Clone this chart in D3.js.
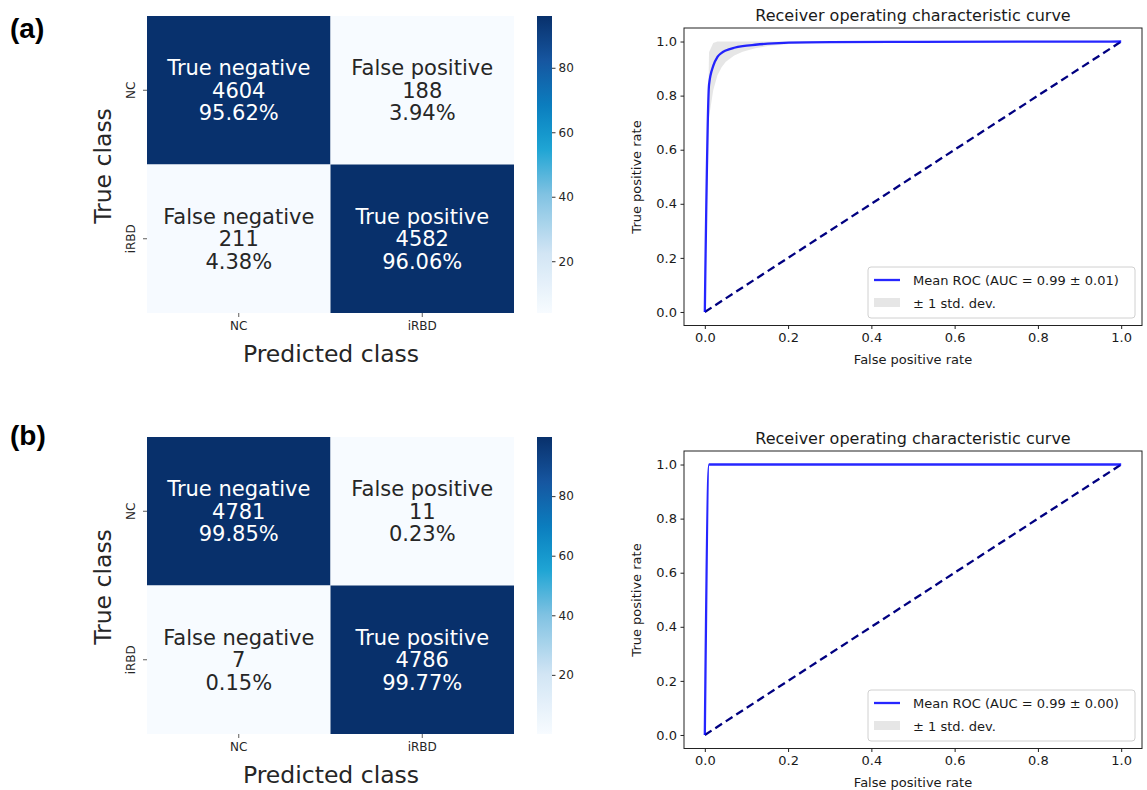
<!DOCTYPE html>
<html>
<head>
<meta charset="utf-8">
<script src="https://cdn.jsdelivr.net/npm/d3@7"></script>
<style>
  body { margin: 0; background: #fff; }
  svg { display: block; font-family: "DejaVu Sans", sans-serif; }
</style>
</head>
<body>
<svg id="fig" width="1147" height="790"></svg>
<script>
// ---- data ----
var classes = ["NC", "iRBD"]
var cellNames = [["True negative", "False positive"], ["False negative", "True positive"]]
var countsA = [[4604, 188], [211, 4582]]
var percentA = [[95.62, 3.94], [4.38, 96.06]]
var countsB = [[4781, 11], [7, 4786]]
var percentB = [[99.85, 0.23], [0.15, 99.77]]
var cbarTicks = [20, 40, 60, 80]
var rocTicks = [0, 0.2, 0.4, 0.6, 0.8, 1.0]

// mean ROC (a)
var fprA = [0, 0.0101, 0.0202, 0.0303, 0.0404, 0.0505, 0.0707, 0.0909, 0.1212, 0.1515, 0.2020, 0.3030, 0.5051, 1.0]
var tprA = [0, 0.84, 0.91, 0.943, 0.958, 0.967, 0.977, 0.983, 0.988, 0.992, 0.996, 0.998, 0.999, 1.0]
var upperA = [0, 0.96, 0.995, 1, 1, 1, 1, 1, 1, 1, 1, 1, 1, 1]
var lowerA = [0, 0.72, 0.82, 0.875, 0.905, 0.925, 0.948, 0.962, 0.975, 0.983, 0.991, 0.996, 0.998, 1.0]
// mean ROC (b)
var fprB = [0, 0.0101, 1.0]
var tprB = [0, 1.0, 1.0]
var upperB = [0, 1.0, 1.0]
var lowerB = [0, 1.0, 1.0]

var legendA = ["Mean ROC (AUC = 0.99 \u00b1 0.01)", "\u00b1 1 std. dev."]
var legendB = ["Mean ROC (AUC = 0.99 \u00b1 0.00)", "\u00b1 1 std. dev."]

// colormap stops (position in colormap, colour)
var cmapPos = [0, 0.2, 0.4, 0.56, 0.7, 0.85, 1]
var cmapCol = ["#f7fbff", "#d2e5f4", "#80c2e2", "#1aa3d3", "#0b7dbe", "#1656a0", "#08306b"]

var svg = d3.select("#fig")
var textDark = "#262626"

var cmap = d3.scaleLinear().domain(cmapPos).range(cmapCol).interpolate(d3.interpolateRgb)

var heatmap = function(g, counts, pct, y0, id) {
    var x = d3.scaleBand().domain(classes).range([147, 514])
    var y = d3.scaleBand().domain(classes).range([y0, y0 + 297])
    var vals = d3.merge(pct)
    var ext = d3.extent(vals)
    var t = d3.scaleLinear().domain(ext).range([0, 1])
    var cells = []
    classes.forEach(function(r, i) {
        classes.forEach(function(c, j) {
            cells.push({row: r, col: c, name: cellNames[i][j], n: counts[i][j], p: pct[i][j]})
        })
    })
    var cg = g.selectAll("g.cell").data(cells).enter().append("g").attr("class", "cell")
    cg.append("rect")
        .attr("x", function(d) { return x(d.col) })
        .attr("y", function(d) { return y(d.row) })
        .attr("width", x.bandwidth())
        .attr("height", y.bandwidth())
        .attr("fill", function(d) { return cmap(t(d.p)) })
    cg.each(function(d) {
        var el = d3.select(this)
        var cx = x(d.col) + x.bandwidth() / 2
        var cy = y(d.row) + y.bandwidth() / 2
        var col = t(d.p) > 0.5 ? "#fff" : textDark
        var lines = [d.name, String(d.n), d.p.toFixed(2) + "%"]
        lines.forEach(function(s, k) {
            el.append("text")
                .attr("x", cx).attr("y", cy + (k - 1) * 22.5 + 7.5)
                .attr("text-anchor", "middle")
                .style("font-size", "21px")
                .attr("fill", col)
                .text(s)
        })
    })
    // ticks
    classes.forEach(function(c) {
        var xc = x(c) + x.bandwidth() / 2
        g.append("line").attr("x1", xc).attr("x2", xc).attr("y1", y0 + 297).attr("y2", y0 + 301)
            .attr("stroke", "#333").attr("stroke-width", 0.8)
        g.append("text").attr("x", xc).attr("y", y0 + 314).attr("text-anchor", "middle")
            .style("font-size", "12px").attr("fill", textDark).text(c)
        var yc = y(c) + y.bandwidth() / 2
        g.append("line").attr("x1", 143).attr("x2", 147).attr("y1", yc).attr("y2", yc)
            .attr("stroke", "#333").attr("stroke-width", 0.8)
        g.append("text").attr("transform", "translate(135," + yc + ") rotate(-90)")
            .attr("text-anchor", "middle").style("font-size", "12px").attr("fill", textDark).text(c)
    })
    g.append("text").attr("x", 331).attr("y", y0 + 346).attr("text-anchor", "middle")
        .style("font-size", "23.5px").attr("fill", textDark).text("Predicted class")
    g.append("text").attr("transform", "translate(111," + (y0 + 150) + ") rotate(-90)")
        .attr("text-anchor", "middle").style("font-size", "23.5px").attr("fill", textDark).text("True class")

    // colorbar
    var grad = svg.append("defs").append("linearGradient").attr("id", id)
        .attr("x1", 0).attr("y1", 1).attr("x2", 0).attr("y2", 0)
    d3.range(0, 1.0001, 0.05).forEach(function(s) {
        grad.append("stop").attr("offset", s).attr("stop-color", cmap(s))
    })
    var cy = d3.scaleLinear().domain(ext).range([y0 + 297, y0])
    g.append("rect").attr("x", 537).attr("y", y0).attr("width", 15).attr("height", 297)
        .attr("fill", "url(#" + id + ")")
    var ax = g.append("g").attr("transform", "translate(552,0)")
        .call(d3.axisRight(cy).tickValues(cbarTicks).tickSize(3.5).tickPadding(3))
    ax.select(".domain").remove()
    ax.selectAll("line").attr("stroke", "#333")
    ax.selectAll("text").style("font-size", "12px").attr("fill", textDark).style("font-family", "DejaVu Sans")
}

var roc = function(g, fpr, tpr, lo, hi, top, leg) {
    var x = d3.scaleLinear().domain([-0.05, 1.05]).range([684, 1142])
    var y = d3.scaleLinear().domain([-0.05, 1.05]).range([top + 297.5, top])
    var pts = fpr.map(function(f, i) { return {f: f, t: tpr[i], lo: lo[i], hi: hi[i]} })
    g.append("path").datum(pts)
        .attr("d", d3.area().x(function(d) { return x(d.f) })
            .y0(function(d) { return y(d.lo) }).y1(function(d) { return y(d.hi) }))
        .attr("fill", "#808080").attr("fill-opacity", 0.2)
    g.append("path").datum([0, 1])
        .attr("d", d3.line().x(function(d) { return x(d) }).y(function(d) { return y(d) }))
        .attr("fill", "none").attr("stroke", "#000080").attr("stroke-width", 2.3)
        .attr("stroke-dasharray", "8,4.5")
    g.append("path").datum(pts)
        .attr("d", d3.line().x(function(d) { return x(d.f) }).y(function(d) { return y(d.t) })
            .curve(d3.curveMonotoneX))
        .attr("fill", "none").attr("stroke", "#0000ff").attr("stroke-opacity", 0.85).attr("stroke-width", 2.3)

    // frame
    g.append("rect").attr("x", 684).attr("y", top).attr("width", 458).attr("height", 297.5)
        .attr("fill", "none").attr("stroke", "#222").attr("stroke-width", 1)
    var xa = g.append("g").attr("transform", "translate(0," + (top + 297.5) + ")")
        .call(d3.axisBottom(x).tickValues(rocTicks).tickFormat(d3.format(".1f")).tickSize(3.5).tickPadding(3.5))
    var ya = g.append("g").attr("transform", "translate(684,0)")
        .call(d3.axisLeft(y).tickValues(rocTicks).tickFormat(d3.format(".1f")).tickSize(3.5).tickPadding(3.5))
    ;[xa, ya].forEach(function(a) {
        a.select(".domain").remove()
        a.selectAll("line").attr("stroke", "#222")
        a.selectAll("text").style("font-size", "13px").style("font-family", "DejaVu Sans").attr("fill", "#1a1a1a")
    })
    g.append("text").attr("x", 913).attr("y", top - 7).attr("text-anchor", "middle")
        .style("font-size", "16px").attr("fill", "#1a1a1a").text("Receiver operating characteristic curve")
    g.append("text").attr("x", 913).attr("y", top + 336).attr("text-anchor", "middle")
        .style("font-size", "13px").attr("fill", "#1a1a1a").text("False positive rate")
    g.append("text").attr("transform", "translate(641," + (top + 149) + ") rotate(-90)")
        .attr("text-anchor", "middle").style("font-size", "13px").attr("fill", "#1a1a1a").text("True positive rate")

    // legend
    var lg = g.append("g").attr("transform", "translate(868," + (top + 239) + ")")
    lg.append("rect").attr("width", 267).attr("height", 51).attr("rx", 3)
        .attr("fill", "#fff").attr("fill-opacity", 0.85).attr("stroke", "#d0d0d0")
    lg.append("line").attr("x1", 6).attr("x2", 32).attr("y1", 13).attr("y2", 13)
        .attr("stroke", "#0000ff").attr("stroke-opacity", 0.85).attr("stroke-width", 2.3)
    lg.append("rect").attr("x", 6).attr("y", 31).attr("width", 26).attr("height", 9)
        .attr("fill", "#808080").attr("fill-opacity", 0.2)
    leg.forEach(function(s, i) {
        lg.append("text").attr("x", 45).attr("y", 17.5 + i * 23.5)
            .style("font-size", "13px").attr("fill", "#1a1a1a").text(s)
    })
}

heatmap(svg.append("g"), countsA, percentA, 16, "cbA")
heatmap(svg.append("g"), countsB, percentB, 437, "cbB")
roc(svg.append("g"), fprA, tprA, lowerA, upperA, 28, legendA)
roc(svg.append("g"), fprB, tprB, lowerB, upperB, 451, legendB)

svg.append("text").attr("x", 10).attr("y", 38).style("font-family", "Liberation Sans")
    .style("font-weight", "bold").style("font-size", "28px").text("(a)")
svg.append("text").attr("x", 10).attr("y", 445).style("font-family", "Liberation Sans")
    .style("font-weight", "bold").style("font-size", "28px").text("(b)")
</script>
</body>
</html>
